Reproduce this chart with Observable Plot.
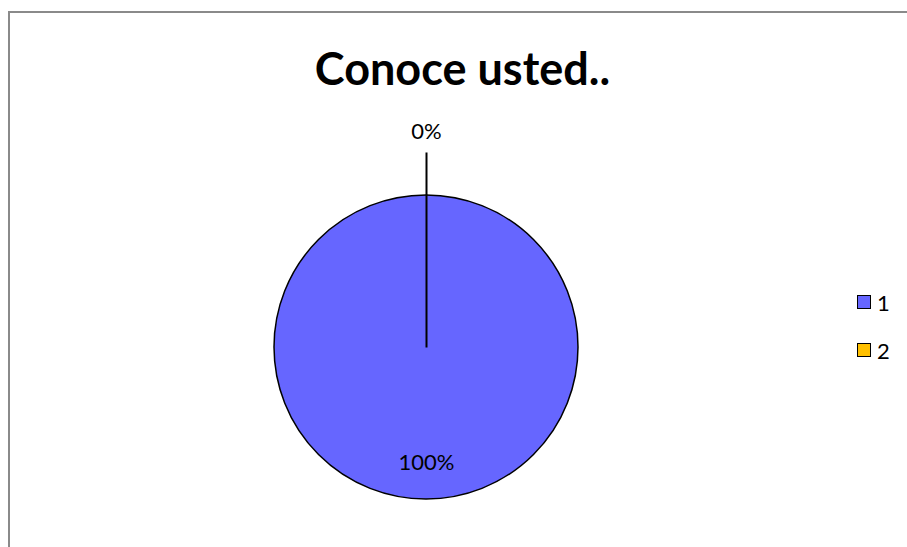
<!DOCTYPE html>
<html>
<head>
<meta charset="utf-8">
<script src="https://cdn.jsdelivr.net/npm/d3@7"></script>
<script src="https://cdn.jsdelivr.net/npm/@observablehq/plot@0.6"></script>
<style>
  html, body { margin: 0; padding: 0; background: #fff; }
  #wrap { position: relative; width: 907px; height: 547px; overflow: hidden; font-family: Lato, "Open Sans", sans-serif; }
  #frame { position: absolute; left: 8px; top: 11px; width: 1000px; height: 1000px; border-top: 2px solid #8a8a8a; border-left: 2px solid #8a8a8a; box-sizing: border-box; }
  #title { position: absolute; left: 0; top: 38px; width: 925px; text-align: center; font-weight: 700; font-size: 45px; line-height: 60px; color: #000; }
  #chart { position: absolute; left: 0; top: 0; }
  .leg { position: absolute; left: 857px; height: 22px; display: flex; align-items: center; font-size: 22px; color: #000; }
  .sw { width: 12px; height: 12px; border: 1.6px solid #000; margin-right: 6px; }
</style>
</head>
<body>
<div id="wrap">
  <div id="frame"></div>
  <div id="title">Conoce usted..</div>
  <div id="chart"></div>
  <div id="legend"></div>
</div>
<script>
const categories = ["1", "2"];
const values = [100, 0];
const colors = ["#6666FF", "#FFC000"];
const labels = ["100%", "0%"];

const pie = d3.pie().sort(null).value(d => d.value);
const rows = categories.map((c, i) => ({category: c, value: values[i], label: labels[i], color: colors[i]}));
const arcs = pie(rows);

const labelRadius = a => (a.endAngle - a.startAngle) > 0.5 ? 0.76 : 1.42;
const textRows = arcs.map(a => {
  const mid = (a.startAngle + a.endAngle) / 2;
  const r = labelRadius(a);
  return {label: a.data.label, x: r * Math.sin(mid), y: r * Math.cos(mid)};
});
const leaderRows = arcs.filter(a => a.endAngle - a.startAngle < 1e-9).map(a => {
  const mid = (a.startAngle + a.endAngle) / 2;
  return {x1: 0, y1: 0, x2: 1.283 * Math.sin(mid), y2: 1.283 * Math.cos(mid)};
});

function pieMark(index, scales, values, dimensions) {
  const cx = scales.x(0), cy = scales.y(0);
  const r = Math.abs(scales.x(1) - scales.x(0));
  const arc = d3.arc().innerRadius(0).outerRadius(r);
  const g = d3.create("svg:g").attr("transform", `translate(${cx},${cy})`);
  g.selectAll("path").data(arcs.filter(a => a.endAngle > a.startAngle)).join("path")
    .attr("d", arc)
    .attr("fill", d => d.data.color)
    .attr("stroke", "#000")
    .attr("stroke-width", 1.5);
  return g.node();
}

const plot = Plot.plot({
  width: 907,
  height: 547,
  marginLeft: 274,
  marginRight: 329,
  marginTop: 195,
  marginBottom: 48,
  x: {domain: [-1, 1], axis: null},
  y: {domain: [-1, 1], axis: null},
  style: {background: "transparent", overflow: "visible"},
  marks: [
    pieMark,
    Plot.link(leaderRows, {x1: "x1", y1: "y1", x2: "x2", y2: "y2", stroke: "#000", strokeWidth: 2}),
    Plot.text(textRows, {x: "x", y: "y", text: "label", fontSize: 22, fontFamily: "Lato, 'Open Sans', sans-serif", fill: "#000"})
  ]
});
document.getElementById("chart").appendChild(plot);

const legend = document.getElementById("legend");
const legendTops = [291, 339];
categories.forEach((c, i) => {
  const item = document.createElement("div");
  item.className = "leg";
  item.style.top = legendTops[i] + "px";
  item.innerHTML = `<div class="sw" style="background:${colors[i]}"></div><span>${c}</span>`;
  legend.appendChild(item);
});
</script>
</body>
</html>
